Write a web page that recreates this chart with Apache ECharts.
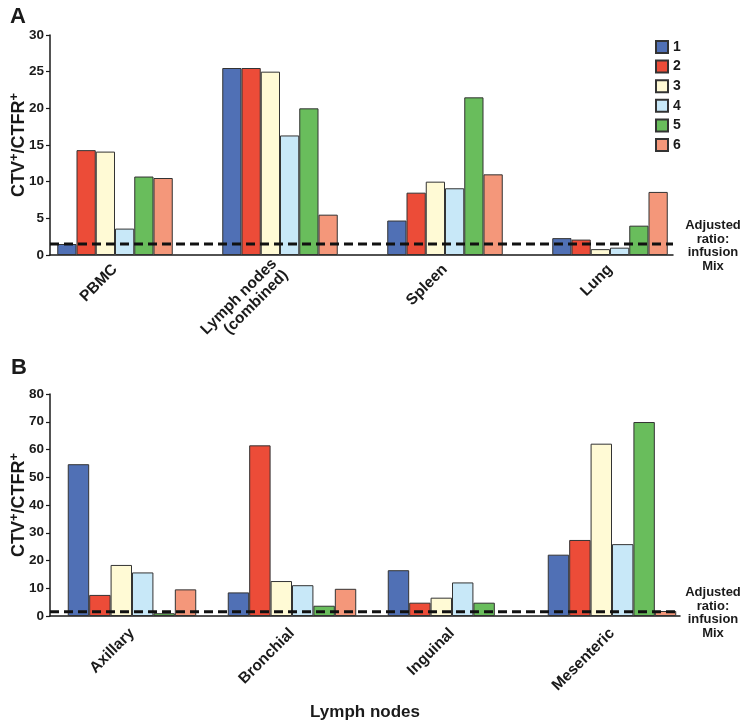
<!DOCTYPE html>
<html>
<head>
<meta charset="utf-8">
<script src="https://cdn.jsdelivr.net/npm/echarts@6/dist/echarts.min.js"></script>
<style>html,body{margin:0;padding:0;background:#fff}#c{width:750px;height:722px}</style>
</head>
<body>
<div id="c"></div>
<script>
// ---- data ----
const seriesNames = ['1', '2', '3', '4', '5', '6'];
const seriesColors = ['#5070B5', '#EC4C38', '#FFFAD5', '#C8E8F8', '#69BD5C', '#F4977A'];

const categoriesA = ['PBMC', 'Lymph nodes\n(combined)', 'Spleen', 'Lung'];
const a1 = [1.5, 25.5, 4.7, 2.3];
const a2 = [14.3, 25.5, 8.5, 2.1];
const a3 = [14.1, 25.0, 10.0, 0.8];
const a4 = [3.6, 16.3, 9.1, 1.0];
const a5 = [10.7, 20.0, 21.5, 4.0];
const a6 = [10.5, 5.5, 11.0, 8.6];
const valuesA = [a1, a2, a3, a4, a5, a6];

const categoriesB = ['Axillary', 'Bronchial', 'Inguinal', 'Mesenteric'];
const b1 = [54.7, 8.5, 16.5, 22.1];
const b2 = [7.6, 61.5, 4.8, 27.4];
const b3 = [18.4, 12.6, 6.6, 62.1];
const b4 = [15.7, 11.1, 12.1, 25.9];
const b5 = [1.0, 3.7, 4.8, 69.9];
const b6 = [9.6, 9.8, null, 1.8];
const valuesB = [b1, b2, b3, b4, b5, b6];

const adjustedRatio = 1.5;
const yTicksA = { min: 0, max: 30, interval: 5 };
const yTicksB = { min: 0, max: 80, interval: 10 };
const yAxisTitle = '{m|CTV}{s|+}{m|/CTFR}{s|+}';
const xAxisTitleB = 'Lymph nodes';
const refLabel = 'Adjusted\nratio:\ninfusion\nMix';

// ---- chart ----
const FONT = '"Liberation Sans", Arial, Helvetica, sans-serif';
const INK = '#1a1a1a';
const chart = echarts.init(document.getElementById('c'), null, { renderer: 'canvas' });

function axesX(gridIndex, extra) {
  return Object.assign({
    gridIndex, type: 'value', min: 0, max: 1,
    axisLine: { show: true, onZero: false, lineStyle: { color: INK, width: 1.5 } },
    axisTick: { show: false }, axisLabel: { show: false }, splitLine: { show: false }
  }, extra || {});
}
function catX(gridIndex, data, margin) {
  return {
    gridIndex, type: 'category', data,
    axisLine: { show: false }, axisTick: { show: false },
    axisLabel: { interval: 0, rotate: 45, margin, color: INK, fontFamily: FONT, fontWeight: 'bold', fontSize: 15.5, lineHeight: 16 }
  };
}
function valY(gridIndex, t, withName) {
  const o = {
    gridIndex, type: 'value', min: t.min, max: t.max, interval: t.interval,
    axisLine: { show: true, lineStyle: { color: INK, width: 1.5 } },
    axisTick: { show: true, inside: false, length: 4, lineStyle: { color: INK, width: 1.2 } },
    axisLabel: { color: INK, fontFamily: FONT, fontWeight: 'bold', fontSize: 13.5, margin: 6 },
    splitLine: { show: false }
  };
  if (withName) {
    Object.assign(o, {
      name: yAxisTitle, nameLocation: 'middle', nameRotate: 90, nameGap: 19, nameMoveOverlap: false,
      nameTextStyle: {
        color: INK,
        rich: {
          m: { fontFamily: FONT, fontWeight: 'bold', fontSize: 18, color: INK },
          s: { fontFamily: FONT, fontWeight: 'bold', fontSize: 13, color: INK, verticalAlign: 'top', padding: [0, 0, 10, 0] }
        }
      }
    });
  }
  return o;
}
function hiddenY(gridIndex, t) {
  return { gridIndex, type: 'value', min: t.min, max: t.max, interval: t.interval, show: false, splitLine: { show: false } };
}

const series = [];
valuesA.forEach((vals, i) => {
  series.push({
    name: seriesNames[i], type: 'bar', xAxisIndex: 1, yAxisIndex: 1, data: vals,
    barGap: '0%', barCategoryGap: '30%',
    itemStyle: { color: seriesColors[i], borderColor: '#333', borderWidth: 1 }
  });
});
valuesB.forEach((vals, i) => {
  series.push({
    name: seriesNames[i], type: 'bar', xAxisIndex: 3, yAxisIndex: 3, data: vals,
    barGap: '0%', barCategoryGap: '19.7%',
    itemStyle: { color: seriesColors[i], borderColor: '#333', borderWidth: 1 }
  });
});
const dashStyle = { color: '#111', width: 3, type: [9, 5] };
series.push({
  type: 'line', xAxisIndex: 0, yAxisIndex: 0, z: 10, symbol: 'none', silent: true,
  data: [[0, adjustedRatio], [1, adjustedRatio]], lineStyle: dashStyle
});
series.push({
  type: 'line', xAxisIndex: 2, yAxisIndex: 2, z: 10, symbol: 'none', silent: true,
  data: [[0, adjustedRatio], [1.01, adjustedRatio]], lineStyle: dashStyle
});

const gridBase = { outerBoundsMode: 'none', containLabel: false };
chart.setOption({
  animation: false,
  backgroundColor: '#fff',
  title: [
    { text: 'A', left: 5, top: 1, textStyle: { fontFamily: FONT, fontWeight: 'bold', fontSize: 22, color: INK } },
    { text: 'B', left: 6, top: 352, textStyle: { fontFamily: FONT, fontWeight: 'bold', fontSize: 22, color: INK } }
  ],
  legend: {
    data: seriesNames, orient: 'vertical', left: 655, top: 40, padding: 0,
    itemWidth: 12, itemHeight: 12, itemGap: 5.6, icon: 'rect',
    textStyle: { fontFamily: FONT, fontWeight: 'bold', fontSize: 14, color: INK }
  },
  grid: [
    Object.assign({ left: 50, top: 35, width: 623, height: 220 }, gridBase),
    Object.assign({ left: 32.5, top: 35, width: 660, height: 220 }, gridBase),
    Object.assign({ left: 50, top: 394, width: 630, height: 222 }, gridBase),
    Object.assign({ left: 52, top: 394, width: 640, height: 222 }, gridBase)
  ],
  xAxis: [
    axesX(0),
    catX(1, categoriesA, 12),
    axesX(2, { max: 1.01, name: xAxisTitleB, nameLocation: 'middle', nameGap: 88, nameMoveOverlap: false,
      nameTextStyle: { fontFamily: FONT, fontWeight: 'bold', fontSize: 17, color: INK } }),
    catX(3, categoriesB, 15)
  ],
  yAxis: [
    valY(0, yTicksA, true),
    hiddenY(1, yTicksA),
    valY(2, yTicksB, true),
    hiddenY(3, yTicksB)
  ],
  graphic: [
    { type: 'text', x: 713, y: 219, style: { text: refLabel, fontFamily: FONT, fontWeight: 'bold', fontSize: 13, lineHeight: 13.5, align: 'center', verticalAlign: 'top', fill: INK } },
    { type: 'text', x: 713, y: 586, style: { text: refLabel, fontFamily: FONT, fontWeight: 'bold', fontSize: 13, lineHeight: 13.5, align: 'center', verticalAlign: 'top', fill: INK } }
  ],
  series
});
</script>
</body>
</html>
